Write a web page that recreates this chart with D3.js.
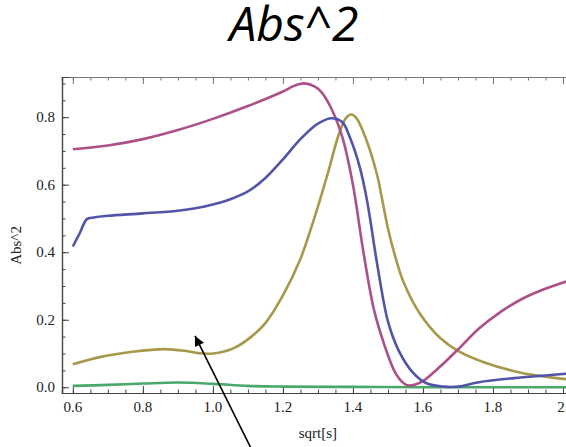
<!DOCTYPE html>
<html>
<head>
<meta charset="utf-8">
<script src="https://cdn.jsdelivr.net/npm/d3@7"></script>
<style>
  body { margin: 0; background: #fff; }
  svg { display: block; }
</style>
</head>
<body>
<div id="chart"></div>
<script>
// chart values
var blueS = [0.6, 0.62, 0.64, 0.66, 0.7, 0.8, 0.9, 0.95, 1.0, 1.05, 1.1, 1.15, 1.2, 1.25, 1.3, 1.34, 1.37, 1.392, 1.42, 1.44, 1.47, 1.5, 1.53, 1.57, 1.61, 1.66, 1.7, 1.76, 1.86, 1.95, 2.03];
var blueV = [0.417, 0.457, 0.498, 0.503, 0.508, 0.515, 0.523, 0.53, 0.541, 0.557, 0.58, 0.62, 0.675, 0.735, 0.781, 0.797, 0.785, 0.738, 0.65, 0.555, 0.36, 0.195, 0.11, 0.045, 0.012, 0.002, 0.002, 0.015, 0.027, 0.035, 0.042];

var magentaS = [0.6, 0.7, 0.8, 0.9, 1.0, 1.1, 1.2, 1.23, 1.26, 1.29, 1.31, 1.34, 1.37, 1.4, 1.43, 1.46, 1.49, 1.52, 1.545, 1.56, 1.58, 1.6, 1.65, 1.7, 1.76, 1.82, 1.88, 1.94, 2.0, 2.03];
var magentaV = [0.705, 0.716, 0.735, 0.762, 0.795, 0.833, 0.876, 0.892, 0.9, 0.891, 0.874, 0.822, 0.74, 0.6, 0.4, 0.23, 0.125, 0.045, 0.012, 0.005, 0.009, 0.018, 0.062, 0.112, 0.174, 0.222, 0.26, 0.288, 0.31, 0.32];

var oliveS = [0.6, 0.68, 0.77, 0.86, 0.92, 0.96, 1.0, 1.06, 1.11, 1.15, 1.2, 1.25, 1.28, 1.3, 1.33, 1.36, 1.38, 1.395, 1.41, 1.44, 1.47, 1.48, 1.5, 1.52, 1.545, 1.59, 1.65, 1.7, 1.78, 1.88, 1.96, 2.03];
var oliveV = [0.068, 0.09, 0.105, 0.113, 0.108, 0.101, 0.1, 0.116, 0.15, 0.19, 0.272, 0.38, 0.47, 0.535, 0.64, 0.75, 0.797, 0.808, 0.797, 0.728, 0.625, 0.575, 0.47, 0.39, 0.31, 0.22, 0.145, 0.108, 0.072, 0.043, 0.03, 0.022];

var greenS = [0.6, 0.7, 0.8, 0.9, 1.0, 1.1, 1.2, 1.4, 1.6, 1.8, 2.03];
var greenV = [0.004, 0.007, 0.011, 0.014, 0.01, 0.004, 0.002, 0.001, 0.0, 0.0, 0.0];

var seriesColors = ["#5254a8", "#ac5088", "#a8984c", "#4aa86a"];

var xTicks = [0.6, 0.8, 1.0, 1.2, 1.4, 1.6, 1.8, 2.0];
var xTickLabels = ["0.6", "0.8", "1.0", "1.2", "1.4", "1.6", "1.8", "2."];
var yTicks = [0.0, 0.2, 0.4, 0.6, 0.8];
var yTickLabels = ["0.0", "0.2", "0.4", "0.6", "0.8"];

// arrow annotation in data units: tail -> head
var arrowS = [1.135, 0.949];
var arrowV = [-0.235, 0.152];

var serifFont = "'Liberation Serif', 'DejaVu Serif', serif";

// svg dimensions
var svgWidth = 566;
var svgHeight = 447;

var margin = { top: 77, right: -11, bottom: 54, left: 62 };
var width = svgWidth - margin.left - margin.right;
var height = svgHeight - margin.top - margin.bottom;

var svg = d3.select("#chart")
  .append("svg")
  .attr("width", svgWidth)
  .attr("height", svgHeight);

var defs = svg.append("defs");
defs.append("clipPath")
  .attr("id", "plotClip")
  .append("rect")
  .attr("x", 0)
  .attr("y", 0)
  .attr("width", width)
  .attr("height", height);

defs.append("marker")
  .attr("id", "arrowHead")
  .attr("viewBox", "0 0 10 10")
  .attr("refX", 10)
  .attr("refY", 5)
  .attr("markerUnits", "userSpaceOnUse")
  .attr("markerWidth", 14)
  .attr("markerHeight", 10)
  .attr("orient", "auto")
  .append("path")
  .attr("d", "M0,0 L10,5 L0,10 Z")
  .attr("fill", "#000");

var chartGroup = svg.append("g")
  .attr("transform", `translate(${margin.left}, ${margin.top})`);

// scales
var xScale = d3.scaleLinear()
  .domain([0.569, 2.04])
  .range([0, width]);

var yScale = d3.scaleLinear()
  .domain([-0.017, 0.919])
  .range([height, 0]);

// minor + major ticks, pointing inward
var xMinor = d3.range(0.6, 2.001, 0.05);
var yMinor = d3.range(0, 0.9001, 0.05);

var bottomAxis = d3.axisBottom(xScale).tickValues(xMinor).tickSize(-3.5).tickFormat("");
var bottomMajor = d3.axisBottom(xScale).tickValues(xTicks).tickSize(-7).tickFormat("");
var topAxis = d3.axisTop(xScale).tickValues(xMinor).tickSize(-3.5).tickFormat("");
var topMajor = d3.axisTop(xScale).tickValues(xTicks).tickSize(-7).tickFormat("");
var leftAxis = d3.axisLeft(yScale).tickValues(yMinor).tickSize(-3.5).tickFormat("");
var leftMajor = d3.axisLeft(yScale).tickValues(yTicks).tickSize(-7).tickFormat("");

function styleAxis(g, col) {
  g.selectAll("path").attr("stroke", col).attr("stroke-width", 1.2);
  g.selectAll("line").attr("stroke", col).attr("stroke-width", 1);
}

chartGroup.append("g").attr("transform", `translate(0, ${height})`).call(bottomAxis).call(styleAxis, "#444");
chartGroup.append("g").attr("transform", `translate(0, ${height})`).call(bottomMajor).call(styleAxis, "#444");
chartGroup.append("g").call(topAxis).call(styleAxis, "#777");
chartGroup.append("g").call(topMajor).call(styleAxis, "#777");
chartGroup.append("g").call(leftAxis).call(styleAxis, "#444");
chartGroup.append("g").call(leftMajor).call(styleAxis, "#444");

// tick labels
chartGroup.selectAll(".xLabel")
  .data(xTicks)
  .enter()
  .append("text")
  .attr("x", d => xScale(d))
  .attr("y", height + 19)
  .attr("text-anchor", "middle")
  .style("font-family", serifFont)
  .style("font-size", "15px")
  .attr("fill", "#222")
  .text((d, i) => xTickLabels[i]);

chartGroup.selectAll(".yLabel")
  .data(yTicks)
  .enter()
  .append("text")
  .attr("x", -7)
  .attr("y", d => yScale(d))
  .attr("dy", "0.33em")
  .attr("text-anchor", "end")
  .style("font-family", serifFont)
  .style("font-size", "15px")
  .attr("fill", "#222")
  .text((d, i) => yTickLabels[i]);

// curves
var allSeries = [
  d3.zip(blueS, blueV),
  d3.zip(magentaS, magentaV),
  d3.zip(oliveS, oliveV),
  d3.zip(greenS, greenV)
];

var line = d3.line()
  .x(d => xScale(d[0]))
  .y(d => yScale(d[1]))
  .curve(d3.curveCatmullRom.alpha(0.5));

var plotArea = chartGroup.append("g").attr("clip-path", "url(#plotClip)");

// draw green first, blue last as in the picture
[3, 2, 1, 0].forEach(function(i) {
  plotArea.append("path")
    .datum(allSeries[i])
    .attr("d", line)
    .attr("fill", "none")
    .attr("stroke", seriesColors[i])
    .attr("stroke-width", 2.6)
    .attr("stroke-linejoin", "round");
});

// arrow
chartGroup.append("line")
  .attr("x1", xScale(arrowS[0]))
  .attr("y1", yScale(arrowV[0]))
  .attr("x2", xScale(arrowS[1]))
  .attr("y2", yScale(arrowV[1]))
  .attr("stroke", "#000")
  .attr("stroke-width", 1.6)
  .attr("marker-end", "url(#arrowHead)");

// axis labels
chartGroup.append("text")
  .attr("transform", "rotate(-90)")
  .attr("x", -(yScale(0.42)))
  .attr("y", -41)
  .attr("text-anchor", "middle")
  .style("font-family", serifFont)
  .style("font-size", "15px")
  .attr("fill", "#222")
  .text("Abs^2");

chartGroup.append("text")
  .attr("x", xScale(1.3))
  .attr("y", height + 45)
  .attr("text-anchor", "middle")
  .style("font-family", serifFont)
  .style("font-size", "15px")
  .attr("fill", "#222")
  .text("sqrt[s]");

// title
svg.append("text")
  .attr("x", 294)
  .attr("y", 41)
  .attr("text-anchor", "middle")
  .style("font-family", "'Open Sans', sans-serif")
  .style("font-style", "italic")
  .style("font-size", "48px")
  .attr("fill", "#000")
  .text("Abs^2");
</script>
</body>
</html>
